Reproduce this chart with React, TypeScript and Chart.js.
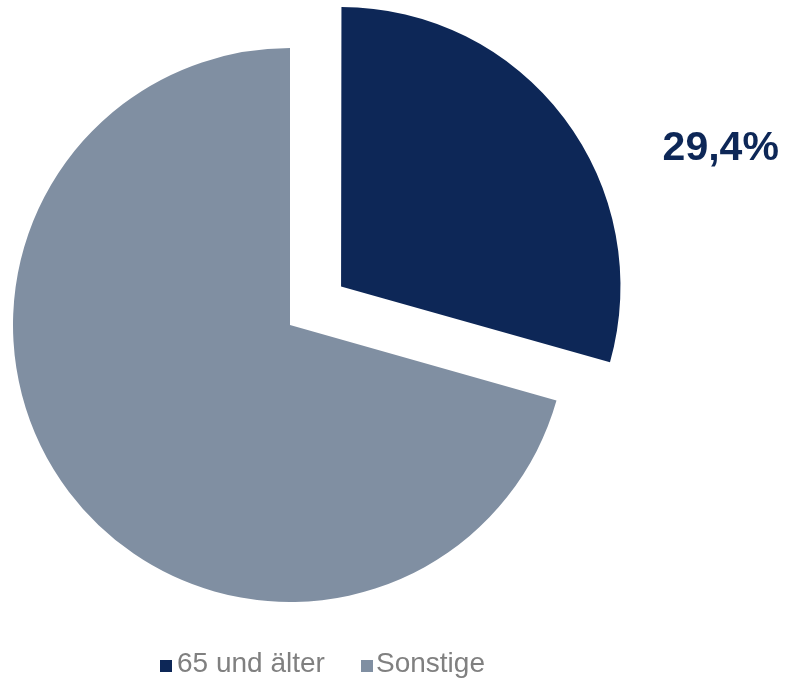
import React, { useEffect, useRef } from "react";
import { Chart, registerables } from "chart.js";

Chart.register(...registerables);

const categories: string[] = ["65 und älter", "Sonstige"];
const values: number[] = [29.4, 70.6];
const valueLabels: string[] = ["29,4%", ""];
const colors: string[] = ["#0d2757", "#808fa2"];

const FONT = "'Liberation Sans', Arial, Helvetica, sans-serif";

const labelPlugin = {
  id: "sliceLabel",
  afterDatasetsDraw(chart: any) {
    const meta = chart.getDatasetMeta(0);
    const arc = meta.data[0];
    if (!arc) return;
    const { x, y, outerRadius } = arc.getProps(["x", "y", "outerRadius"], true);
    const ctx = chart.ctx;
    ctx.save();
    ctx.font = `bold 41px ${FONT}`;
    ctx.fillStyle = colors[0];
    ctx.textAlign = "center";
    ctx.textBaseline = "alphabetic";
    ctx.fillText(valueLabels[0], x + outerRadius * 1.555, y - outerRadius * 0.595);
    ctx.restore();
  },
};

export default function App() {
  const ref = useRef<HTMLCanvasElement | null>(null);
  useEffect(() => {
    if (!ref.current) return;
    const chart = new Chart(ref.current, {
      type: "pie",
      data: {
        labels: categories,
        datasets: [
          {
            data: values,
            backgroundColor: colors,
            borderWidth: 0,
            offset: [256, 0],
            hoverOffset: 0,
          },
        ],
      },
      options: {
        animation: false,
        responsive: false,
        radius: 277,
        layout: { padding: { left: 0, right: 205, top: 0, bottom: 30 } },
        plugins: {
          legend: { display: false },
          tooltip: { enabled: false },
        },
      } as any,
      plugins: [labelPlugin],
    });
    return () => chart.destroy();
  }, []);

  const legendItem = (i: number, left: number, gap: number) => (
    <div
      key={i}
      style={{
        position: "absolute",
        left,
        top: 648,
        display: "flex",
        alignItems: "baseline",
        fontFamily: FONT,
        fontSize: 28,
        color: "#808080",
        whiteSpace: "nowrap",
        lineHeight: "30px",
      }}
    >
      <span
        style={{
          display: "inline-block",
          width: 12,
          height: 12,
          background: colors[i],
          marginRight: gap,
        }}
      />
      <span>{categories[i]}</span>
    </div>
  );

  return (
    <div
      style={{
        position: "absolute",
        left: 0,
        top: 0,
        width: 785,
        height: 680,
        background: "#ffffff",
        overflow: "hidden",
      }}
    >
      <canvas ref={ref} width={785} height={680} style={{ display: "block" }} />
      {legendItem(0, 160, 5)}
      {legendItem(1, 361, 3)}
    </div>
  );
}
